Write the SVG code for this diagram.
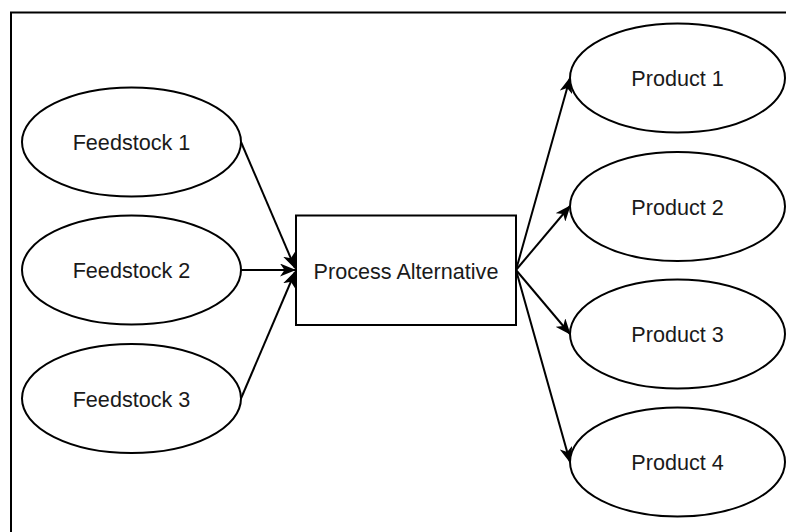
<svg xmlns="http://www.w3.org/2000/svg" width="786" height="532" viewBox="0 0 786 532">
  <style>
    .shape { fill: #ffffff; stroke: #000000; stroke-width: 2; }
    .label { font-family: "Liberation Sans", Arial, Helvetica, sans-serif; font-size: 21.6px; fill: #1a1a1a; text-anchor: middle; }
    .edge { fill: none; stroke: #000000; stroke-width: 2; }
  </style>
  <defs>
    <marker id="arrow" viewBox="0 0 16 13" refX="15" refY="6.5" markerWidth="16" markerHeight="13" markerUnits="userSpaceOnUse" orient="auto">
      <path d="M0,0 L16,6.5 L0,13 L4.5,6.5 Z" fill="#000000"/>
    </marker>
  </defs>

  <rect width="786" height="532" fill="#ffffff"/>
  <!-- outer frame -->
  <rect x="11" y="12.5" width="790" height="530" fill="none" stroke="#000000" stroke-width="2"/>

  <g id="connectors">
    <line class="edge" x1="241" y1="142" x2="295" y2="268" marker-end="url(#arrow)"/>
    <line class="edge" x1="241" y1="270" x2="295" y2="270" marker-end="url(#arrow)"/>
    <line class="edge" x1="241" y1="398.5" x2="295" y2="272" marker-end="url(#arrow)"/>
    <line class="edge" x1="516" y1="270" x2="570" y2="78" marker-end="url(#arrow)"/>
    <line class="edge" x1="516" y1="270" x2="570" y2="206" marker-end="url(#arrow)"/>
    <line class="edge" x1="516" y1="270" x2="570" y2="334" marker-end="url(#arrow)"/>
    <line class="edge" x1="516" y1="270" x2="570" y2="462" marker-end="url(#arrow)"/>
  </g>

  <g id="feedstock1">
    <ellipse class="shape" cx="131.5" cy="142" rx="109.5" ry="54.5"/>
    <text class="label" x="131.5" y="150">Feedstock 1</text>
  </g>
  <g id="feedstock2">
    <ellipse class="shape" cx="131.5" cy="270" rx="109.5" ry="54.5"/>
    <text class="label" x="131.5" y="278">Feedstock 2</text>
  </g>
  <g id="feedstock3">
    <ellipse class="shape" cx="131.5" cy="398.5" rx="109.5" ry="54.5"/>
    <text class="label" x="131.5" y="406.5">Feedstock 3</text>
  </g>

  <g id="process">
    <rect class="shape" x="296" y="215.5" width="220" height="109.5"/>
    <text class="label" x="406" y="279">Process Alternative</text>
  </g>

  <g id="product1">
    <ellipse class="shape" cx="677.5" cy="78" rx="107.5" ry="54.5"/>
    <text class="label" x="677.5" y="86">Product 1</text>
  </g>
  <g id="product2">
    <ellipse class="shape" cx="677.5" cy="206.5" rx="107.5" ry="54.5"/>
    <text class="label" x="677.5" y="214.5">Product 2</text>
  </g>
  <g id="product3">
    <ellipse class="shape" cx="677.5" cy="334" rx="107.5" ry="54.5"/>
    <text class="label" x="677.5" y="342">Product 3</text>
  </g>
  <g id="product4">
    <ellipse class="shape" cx="677.5" cy="462" rx="107.5" ry="54.5"/>
    <text class="label" x="677.5" y="470">Product 4</text>
  </g>
</svg>
